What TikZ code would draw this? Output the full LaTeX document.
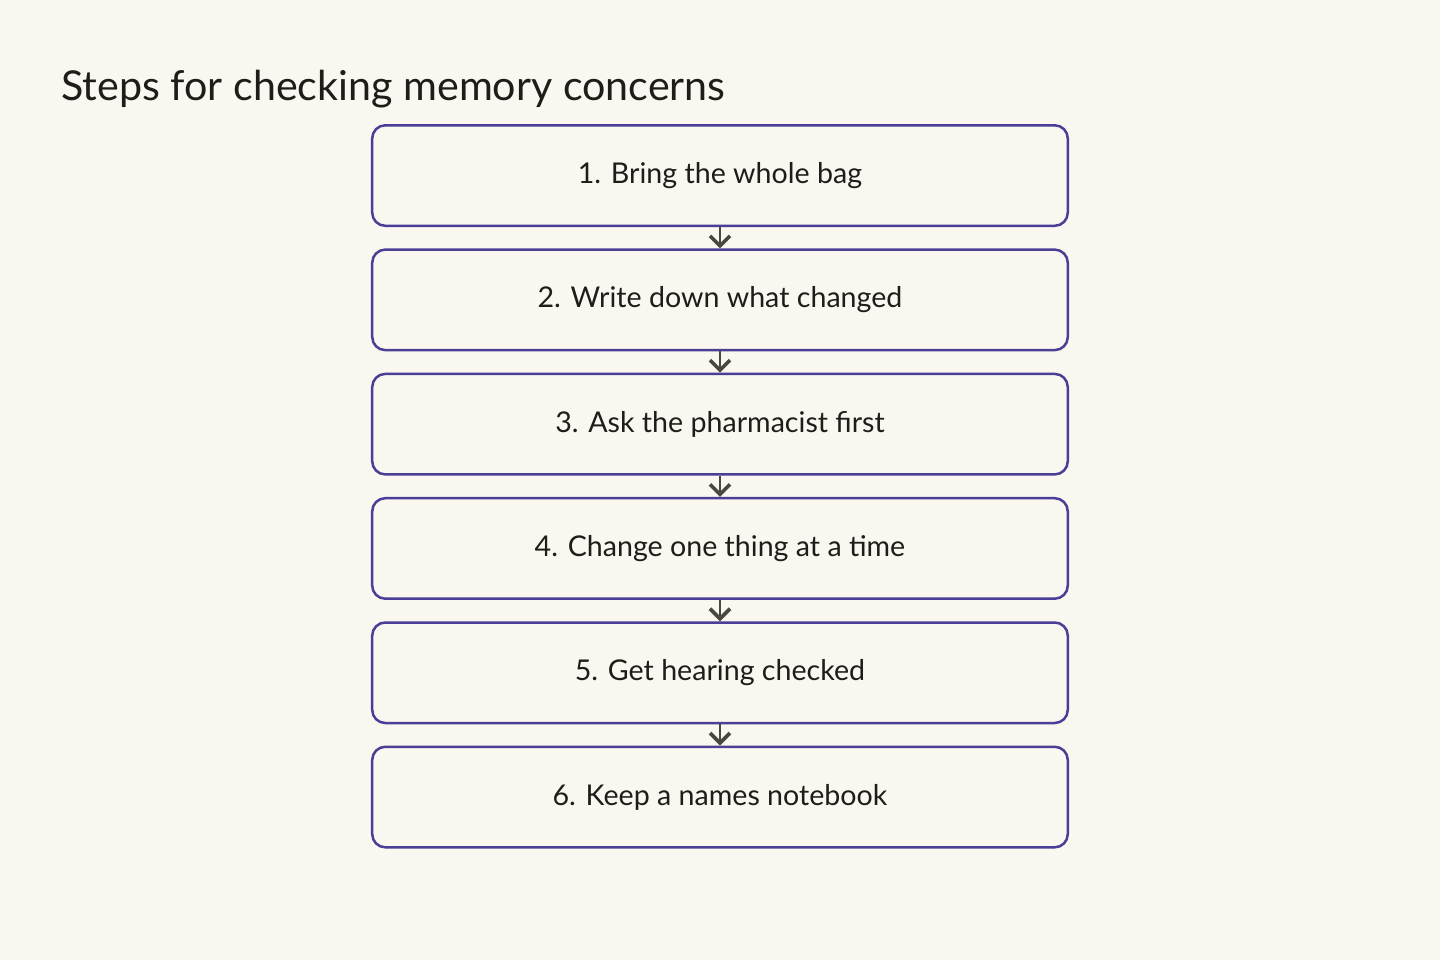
\documentclass[tikz,border=0pt]{standalone}
\usepackage{fontspec}
\setmainfont{Lato}
\usetikzlibrary{arrows.meta}
\definecolor{paper}{HTML}{FAF6F0}
\definecolor{ink}{HTML}{1F1D1A}
\definecolor{edge}{HTML}{4A3F96}
\definecolor{wire}{HTML}{4A4740}
\begin{document}
\begin{tikzpicture}[x=0.5pt,y=-0.5pt,
  stepbox/.style={draw=edge,line width=1.25pt,rounded corners=6.5pt,minimum width=347.75pt,minimum height=50.25pt,text=ink,font=\fontsize{14.3}{17}\selectfont,inner sep=0pt},
  flow/.style={draw=wire,line width=1.4pt,-{Straight Barb[length=5pt,width=10pt,line width=1.8pt]}}]
\fill [paper] (0,0) rectangle (1440,960);
\node [anchor=base west,inner sep=0pt,text=ink,font=\fontsize{20.6}{24}\selectfont] (title) at (61,100) {Steps for checking memory concerns};
\matrix [row sep=10.65pt,every node/.append style={anchor=center}] at (720,486.3)
{
  \node [stepbox] (n00) {1. Bring the whole bag}; \\
  \node [stepbox] (n10) {2. Write down what changed}; \\
  \node [stepbox] (n20) {3. Ask the pharmacist first}; \\
  \node [stepbox] (n30) {4. Change one thing at a time}; \\
  \node [stepbox] (n40) {5. Get hearing checked}; \\
  \node [stepbox] (n50) {6. Keep a names notebook}; \\
};
\draw [flow] (n00) to (n10);
\draw [flow] (n10) to (n20);
\draw [flow] (n20) to (n30);
\draw [flow] (n30) to (n40);
\draw [flow] (n40) to (n50);
\end{tikzpicture}
\end{document}
